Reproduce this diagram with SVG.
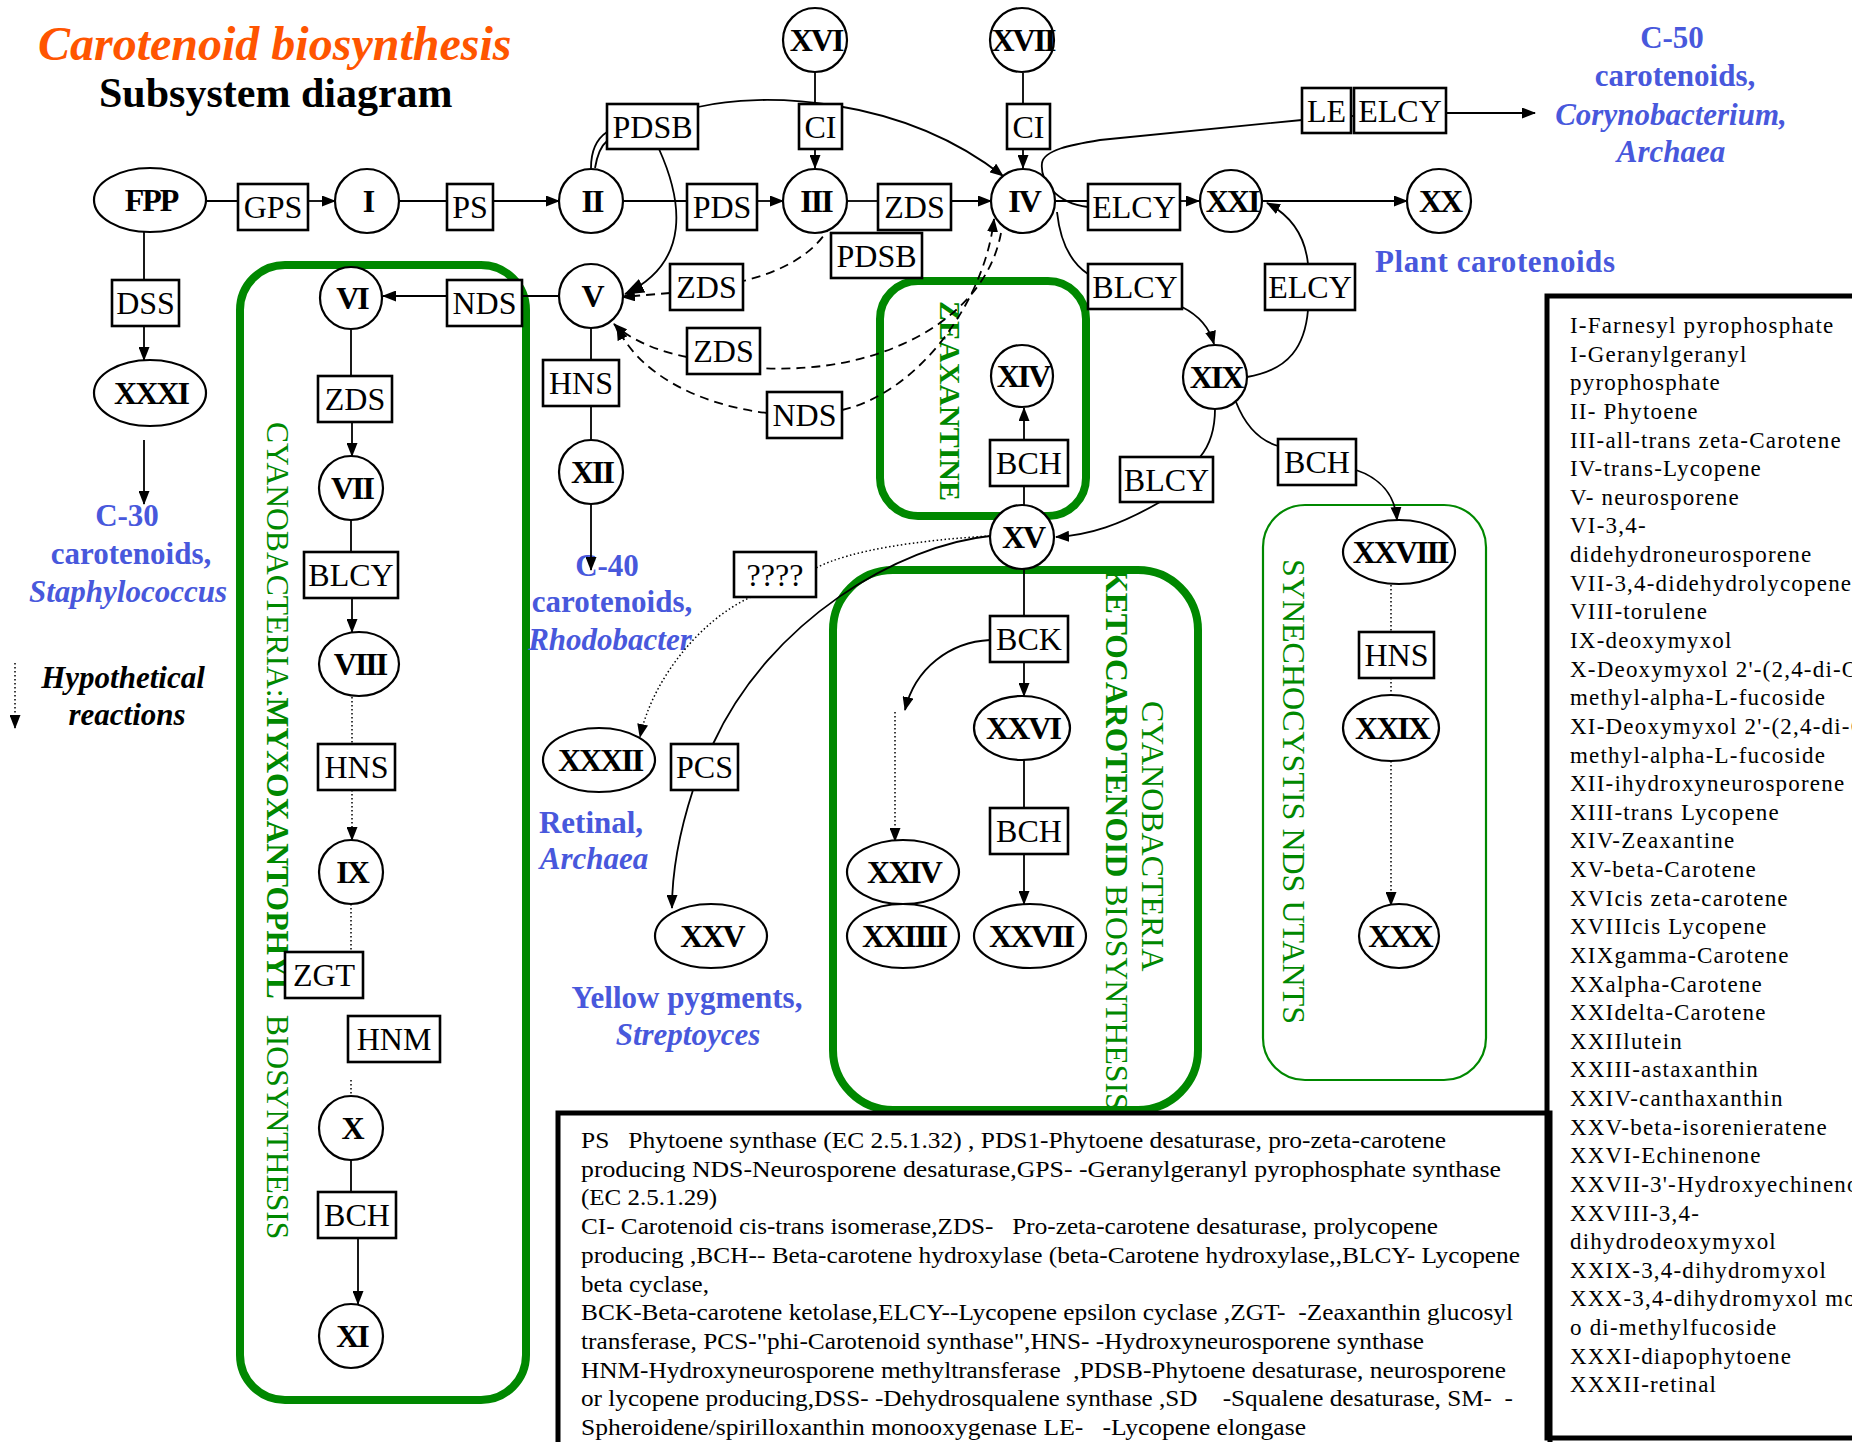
<svg xmlns="http://www.w3.org/2000/svg" width="1852" height="1442" viewBox="0 0 1852 1442">
<style>
text{font-family:"Liberation Serif","Times New Roman",serif}
.nd{fill:#fff;stroke:#000;stroke-width:2.2}
.bx{fill:#fff;stroke:#000;stroke-width:2.6}
.nl{font-weight:bold;font-size:32px;letter-spacing:-2px;text-anchor:middle}
.bl{font-size:32px;text-anchor:middle}
.c{fill:none;stroke:#000;stroke-width:1.8}
.da{stroke-dasharray:9 6}
.dt{stroke-dasharray:1.5 2.5;stroke-width:1.5}
.g{fill:none;stroke:#008800;stroke-width:8}
.gt{fill:#008800}
.blue{fill:#4858DC;font-weight:bold;font-size:31px;text-anchor:middle}
.lg{font-size:23px;letter-spacing:1.2px}
.lb{font-size:23px}
.frame{fill:none;stroke:#000;stroke-width:5}
</style>
<defs>
<marker id="a" markerWidth="14" markerHeight="11" refX="13" refY="5.5" orient="auto" markerUnits="userSpaceOnUse"><path d="M0,0 L14,5.5 L0,11 z"/></marker>
<marker id="ab" markerWidth="20" markerHeight="15" refX="19" refY="7.5" orient="auto" markerUnits="userSpaceOnUse"><path d="M0,0 L20,7.5 L0,15 z"/></marker>
</defs>
<rect width="1852" height="1442" fill="#fff"/>

<g id="titles">
<text x="38" y="60" font-size="48" font-weight="bold" font-style="italic" fill="#FF5500">Carotenoid biosynthesis</text>
<text x="99" y="107" font-size="42" font-weight="bold">Subsystem diagram</text>
</g>

<g id="groups">
<rect class="g" x="240" y="265" width="286" height="1135" rx="45"/>
<rect class="g" x="880" y="281" width="206" height="235" rx="38"/>
<rect class="g" x="833" y="570" width="365" height="540" rx="60"/>
<rect class="g" x="1263" y="505" width="223" height="575" rx="42" style="stroke-width:2.2"/>
<text class="gt" font-size="31.6" xml:space="preserve" transform="translate(267,422) rotate(90)">CYANOBACTERIA:<tspan font-weight="bold">MYXOXANTOPHYL</tspan>  BIOSYNTHESIS</text>
<text class="gt" font-size="30" font-weight="bold" transform="translate(940,301) rotate(90)">ZEAXANTINE</text>
<text class="gt" font-size="31.7" transform="translate(1106,568) rotate(90)"><tspan font-weight="bold">KETOCAROTENOID</tspan> BIOSYNTHESIS</text>
<text class="gt" font-size="32" transform="translate(1142,701) rotate(90)">CYANOBACTERIA</text>
<text class="gt" font-size="32" transform="translate(1283,559) rotate(90)">SYNECHOCYSTIS NDS UTANTS</text>
</g>

<g id="labels">
<text class="blue" x="127" y="526">C-30</text>
<text class="blue" x="131" y="564">carotenoids,</text>
<text class="blue" x="128" y="602" font-style="italic">Staphylococcus</text>
<text class="blue" x="607" y="576">C-40</text>
<text class="blue" x="612" y="612">carotenoids,</text>
<text class="blue" x="610" y="650" font-style="italic">Rhodobacter</text>
<text class="blue" x="591" y="833">Retinal,</text>
<text class="blue" x="594" y="869" font-style="italic">Archaea</text>
<text class="blue" x="687" y="1008">Yellow pygments,</text>
<text class="blue" x="688" y="1045" font-style="italic">Streptoyces</text>
<text class="blue" x="1672" y="48">C-50</text>
<text class="blue" x="1675" y="86">carotenoids,</text>
<text class="blue" x="1671" y="125" font-style="italic">Corynobacterium,</text>
<text class="blue" x="1671" y="162" font-style="italic">Archaea</text>
<text class="blue" x="1375" y="272" style="text-anchor:start" font-size="32" textLength="240" lengthAdjust="spacing">Plant carotenoids</text>
<text x="123" y="688" font-size="31" font-weight="bold" font-style="italic" text-anchor="middle">Hypothetical</text>
<text x="127" y="725" font-size="31" font-weight="bold" font-style="italic" text-anchor="middle">reactions</text>
</g>

<g id="connectors">
<path class="c" d="M190,201 H238"/>
<path class="c" d="M308,201 H335" marker-end="url(#a)"/>
<path class="c" d="M399,201 H447"/>
<path class="c" d="M493,201 H559" marker-end="url(#a)"/>
<path class="c" d="M623,201 H687"/>
<path class="c" d="M757,201 H783" marker-end="url(#a)"/>
<path class="c" d="M847,201 H878"/>
<path class="c" d="M951,201 H991" marker-end="url(#a)"/>
<path class="c" d="M144,232 V280"/>
<path class="c" d="M144,326 V360" marker-end="url(#a)"/>
<path class="c" d="M144,440 V504" marker-end="url(#a)"/>
<path class="c" d="M815,57 V104"/>
<path class="c" d="M815,149 V168" marker-end="url(#a)"/>
<path class="c" d="M1023,73 V104"/>
<path class="c" d="M1023,150 V168" marker-end="url(#a)"/>
<path class="c" d="M591,168 C591,150 598,138 607,132"/>
<path class="c" d="M595,168 C597,156 601,146 607,141"/>
<path class="c" d="M698,107 C760,92 900,95 1003,176" marker-end="url(#a)"/>
<path class="c" d="M659,149 C682,200 692,262 625,294" marker-end="url(#ab)"/>
<path class="c" d="M559,296 H522"/>
<path class="c" d="M447,296 H383" marker-end="url(#a)"/>
<path class="c" d="M591,328 V360"/>
<path class="c" d="M591,406 V440"/>
<path class="c" d="M591,504 V570" marker-end="url(#a)"/>
<path class="c" d="M351,330 V376"/>
<path class="c" d="M352,422 V456" marker-end="url(#a)"/>
<path class="c" d="M351,520 V552"/>
<path class="c" d="M352,598 V632" marker-end="url(#a)"/>
<path class="c dt" d="M352,697 V744"/>
<path class="c dt" d="M352,790 V840" marker-end="url(#a)"/>
<path class="c dt" d="M351,904 V952"/>
<path class="c dt" d="M351,1080 V1130" marker-end="url(#a)"/>
<path class="c" d="M351,1160 V1192"/>
<path class="c" d="M358,1238 V1304" marker-end="url(#a)"/>
<path class="c" d="M1055,201 H1088"/>
<path class="c" d="M1180,201 H1199" marker-end="url(#a)"/>
<path class="c" d="M1263,201 H1407" marker-end="url(#a)"/>
<path class="c" d="M1088,207 C1055,203 1040,180 1042,163 C1044,150 1070,145 1100,140 L1302,120"/>
<path class="c" d="M1351,116 H1354"/>
<path class="c" d="M1446,113 H1535" marker-end="url(#a)"/>
<path class="c" d="M1057,212 C1060,240 1070,262 1088,274"/>
<path class="c" d="M1182,307 C1198,315 1209,326 1214,344" marker-end="url(#a)"/>
<path class="c" d="M1247,377 C1290,370 1305,345 1308,310"/>
<path class="c" d="M1308,264 C1305,235 1290,215 1267,203" marker-end="url(#a)"/>
<path class="c" d="M1215,409 C1215,430 1210,445 1200,457"/>
<path class="c" d="M1160,502 C1120,525 1090,535 1056,537" marker-end="url(#a)"/>
<path class="c" d="M1236,402 C1245,425 1258,440 1278,446"/>
<path class="c" d="M1356,470 C1380,478 1395,495 1397,520" marker-end="url(#a)"/>
<path class="c" d="M1024,505 V486"/>
<path class="c" d="M1024,440 V408" marker-end="url(#a)"/>
<path class="c" d="M1024,569 V616"/>
<path class="c" d="M1024,662 V696" marker-end="url(#a)"/>
<path class="c" d="M990,640 C950,642 915,668 905,710" marker-end="url(#a)"/>
<path class="c dt" d="M895,712 V841" marker-end="url(#a)"/>
<path class="c" d="M1024,760 V808"/>
<path class="c" d="M1024,854 V904" marker-end="url(#a)"/>
<path class="c" d="M990,536 C900,545 770,620 713,744"/>
<path class="c" d="M693,790 C680,830 672,870 672,908" marker-end="url(#a)"/>
<path class="c dt" d="M990,536 C920,540 850,550 816,568"/>
<path class="c dt" d="M751,597 C700,620 652,680 640,737" marker-end="url(#a)"/>
<path class="c dt" d="M1391,585 V632"/>
<path class="c dt" d="M1391,678 V695"/>
<path class="c dt" d="M1391,761 V905" marker-end="url(#a)"/>
<path class="c da" d="M831,224 C815,255 780,272 743,281"/>
<path class="c da" d="M670,293 L622,297" marker-end="url(#a)"/>
<path class="c da" d="M687,357 C660,352 630,340 614,324" marker-end="url(#a)"/>
<path class="c da" d="M767,413 C700,405 640,375 617,327" marker-end="url(#a)"/>
<path class="c da" d="M1001,233 C985,320 880,375 760,368"/>
<path class="c da" d="M842,410 C920,392 985,300 994,219" marker-end="url(#a)"/>
<path class="c dt" d="M15,663 V728" marker-end="url(#a)"/>
</g>

<g id="FPP"><ellipse class="nd" cx="150" cy="200" rx="56" ry="32"/><text class="nl" x="151" y="211">FPP</text></g>
<g id="XXXI"><ellipse class="nd" cx="150" cy="393" rx="56" ry="33"/><text class="nl" x="151" y="404">XXXI</text></g>
<g id="I"><circle class="nd" cx="367" cy="201" r="32"/><text class="nl" x="368" y="212">I</text></g>
<g id="II"><circle class="nd" cx="591" cy="201" r="32"/><text class="nl" x="592" y="212">II</text></g>
<g id="III"><circle class="nd" cx="815" cy="201" r="32"/><text class="nl" x="816" y="212">III</text></g>
<g id="IV"><circle class="nd" cx="1023" cy="201" r="32"/><text class="nl" x="1024" y="212">IV</text></g>
<g id="V"><circle class="nd" cx="591" cy="296" r="32"/><text class="nl" x="592" y="307">V</text></g>
<g id="VI"><circle class="nd" cx="351" cy="298" r="31"/><text class="nl" x="352" y="309">VI</text></g>
<g id="VII"><circle class="nd" cx="351" cy="488" r="32"/><text class="nl" x="352" y="499">VII</text></g>
<g id="VIII"><ellipse class="nd" cx="359" cy="664" rx="40" ry="32"/><text class="nl" x="360" y="675">VIII</text></g>
<g id="IX"><circle class="nd" cx="351" cy="872" r="32"/><text class="nl" x="352" y="883">IX</text></g>
<g id="X"><circle class="nd" cx="351" cy="1128" r="32"/><text class="nl" x="352" y="1139">X</text></g>
<g id="XI"><circle class="nd" cx="351" cy="1336" r="32"/><text class="nl" x="352" y="1347">XI</text></g>
<g id="XII"><circle class="nd" cx="591" cy="472" r="32"/><text class="nl" x="592" y="483">XII</text></g>
<g id="XVI"><circle class="nd" cx="815" cy="40" r="32"/><text class="nl" x="816" y="51">XVI</text></g>
<g id="XVII"><circle class="nd" cx="1022" cy="40" r="32"/><text class="nl" x="1023" y="51">XVII</text></g>
<g id="XIV"><circle class="nd" cx="1022" cy="376" r="31"/><text class="nl" x="1023" y="387">XIV</text></g>
<g id="XV"><circle class="nd" cx="1022" cy="537" r="32"/><text class="nl" x="1023" y="548">XV</text></g>
<g id="XIX"><circle class="nd" cx="1215" cy="377" r="32"/><text class="nl" x="1216" y="388">XIX</text></g>
<g id="XXI"><circle class="nd" cx="1231" cy="201" r="31"/><text class="nl" x="1232" y="212">XXI</text></g>
<g id="XX"><circle class="nd" cx="1439" cy="201" r="32"/><text class="nl" x="1440" y="212">XX</text></g>
<g id="XXXII"><ellipse class="nd" cx="599" cy="760" rx="56" ry="32"/><text class="nl" x="600" y="771">XXXII</text></g>
<g id="XXV"><ellipse class="nd" cx="711" cy="936" rx="56" ry="32"/><text class="nl" x="712" y="947">XXV</text></g>
<g id="XXVI"><ellipse class="nd" cx="1022" cy="728" rx="48" ry="32"/><text class="nl" x="1023" y="739">XXVI</text></g>
<g id="XXIV"><ellipse class="nd" cx="903" cy="872" rx="56" ry="32"/><text class="nl" x="904" y="883">XXIV</text></g>
<g id="XXIIII"><ellipse class="nd" cx="903" cy="936" rx="56" ry="32"/><text class="nl" x="904" y="947">XXIIII</text></g>
<g id="XXVII"><ellipse class="nd" cx="1030" cy="936" rx="56" ry="32"/><text class="nl" x="1031" y="947">XXVII</text></g>
<g id="XXVIII"><ellipse class="nd" cx="1399" cy="552" rx="56" ry="32"/><text class="nl" x="1400" y="563">XXVIII</text></g>
<g id="XXIX"><ellipse class="nd" cx="1391" cy="728" rx="48" ry="33"/><text class="nl" x="1392" y="739">XXIX</text></g>
<g id="XXX"><ellipse class="nd" cx="1399" cy="936" rx="40" ry="32"/><text class="nl" x="1400" y="947">XXX</text></g>

<g id="GPS"><rect class="bx" x="238" y="184" width="70" height="46"/><text class="bl" x="273" y="218">GPS</text></g>
<g id="PS"><rect class="bx" x="447" y="184" width="46" height="46"/><text class="bl" x="470" y="218">PS</text></g>
<g id="DSS"><rect class="bx" x="112" y="280" width="67" height="46"/><text class="bl" x="145.5" y="314">DSS</text></g>
<g id="PDSB1"><rect class="bx" x="607" y="104" width="91" height="45"/><text class="bl" x="652.5" y="138">PDSB</text></g>
<g id="CI1"><rect class="bx" x="799" y="104" width="43" height="45"/><text class="bl" x="820.5" y="138">CI</text></g>
<g id="CI2"><rect class="bx" x="1007" y="104" width="43" height="45"/><text class="bl" x="1028.5" y="138">CI</text></g>
<g id="PDS"><rect class="bx" x="687" y="184" width="70" height="46"/><text class="bl" x="722" y="218">PDS</text></g>
<g id="ZDS1"><rect class="bx" x="878" y="184" width="73" height="46"/><text class="bl" x="914.5" y="218">ZDS</text></g>
<g id="PDSB2"><rect class="bx" x="831" y="233" width="91" height="45"/><text class="bl" x="876.5" y="267">PDSB</text></g>
<g id="NDS1"><rect class="bx" x="447" y="280" width="75" height="46"/><text class="bl" x="484.5" y="314">NDS</text></g>
<g id="ZDS2"><rect class="bx" x="670" y="264" width="73" height="46"/><text class="bl" x="706.5" y="298">ZDS</text></g>
<g id="ZDS3"><rect class="bx" x="687" y="328" width="73" height="46"/><text class="bl" x="723.5" y="362">ZDS</text></g>
<g id="NDS2"><rect class="bx" x="767" y="392" width="75" height="46"/><text class="bl" x="804.5" y="426">NDS</text></g>
<g id="HNS1"><rect class="bx" x="543" y="360" width="76" height="46"/><text class="bl" x="581" y="394">HNS</text></g>
<g id="ELCY1"><rect class="bx" x="1088" y="184" width="92" height="46"/><text class="bl" x="1134" y="218">ELCY</text></g>
<g id="BLCY1"><rect class="bx" x="1088" y="264" width="94" height="45"/><text class="bl" x="1135" y="298">BLCY</text></g>
<g id="ELCY2"><rect class="bx" x="1265" y="264" width="90" height="46"/><text class="bl" x="1310" y="298">ELCY</text></g>
<g id="LE"><rect class="bx" x="1302" y="88" width="49" height="45"/><text class="bl" x="1326.5" y="122">LE</text></g>
<g id="ELCY3"><rect class="bx" x="1354" y="88" width="92" height="45"/><text class="bl" x="1400" y="122">ELCY</text></g>
<g id="ZDS4"><rect class="bx" x="318" y="376" width="74" height="46"/><text class="bl" x="355" y="410">ZDS</text></g>
<g id="BLCY2"><rect class="bx" x="304" y="552" width="94" height="46"/><text class="bl" x="351" y="586">BLCY</text></g>
<g id="HNS2"><rect class="bx" x="318" y="744" width="77" height="46"/><text class="bl" x="356.5" y="778">HNS</text></g>
<g id="ZGT"><rect class="bx" x="285" y="952" width="78" height="46"/><text class="bl" x="324" y="986">ZGT</text></g>
<g id="HNM"><rect class="bx" x="348" y="1016" width="92" height="46"/><text class="bl" x="394" y="1050">HNM</text></g>
<g id="BCH1"><rect class="bx" x="318" y="1192" width="78" height="46"/><text class="bl" x="357" y="1226">BCH</text></g>
<g id="BCH2"><rect class="bx" x="990" y="440" width="78" height="46"/><text class="bl" x="1029" y="474">BCH</text></g>
<g id="BLCY3"><rect class="bx" x="1120" y="457" width="93" height="45"/><text class="bl" x="1166.5" y="491">BLCY</text></g>
<g id="Q"><rect class="bx" x="734" y="552" width="82" height="45"/><text class="bl" x="775" y="586">????</text></g>
<g id="PCS"><rect class="bx" x="671" y="744" width="67" height="46"/><text class="bl" x="704.5" y="778">PCS</text></g>
<g id="BCK"><rect class="bx" x="990" y="616" width="78" height="46"/><text class="bl" x="1029" y="650">BCK</text></g>
<g id="BCH3"><rect class="bx" x="990" y="808" width="78" height="46"/><text class="bl" x="1029" y="842">BCH</text></g>
<g id="BCH4"><rect class="bx" x="1278" y="439" width="78" height="46"/><text class="bl" x="1317" y="473">BCH</text></g>
<g id="HNS3"><rect class="bx" x="1359" y="632" width="75" height="46"/><text class="bl" x="1396.5" y="666">HNS</text></g>

<g id="legend-right">
<path class="frame" d="M1852,296 H1547 V1438 H1852"/>
<text class="lg" x="1570" y="333">I-Farnesyl pyrophosphate</text>
<text class="lg" x="1570" y="361.6">I-Geranylgeranyl</text>
<text class="lg" x="1570" y="390.3">pyrophosphate</text>
<text class="lg" x="1570" y="418.9">II- Phytoene</text>
<text class="lg" x="1570" y="447.5">III-all-trans zeta-Carotene</text>
<text class="lg" x="1570" y="476.2">IV-trans-Lycopene</text>
<text class="lg" x="1570" y="504.8">V- neurosporene</text>
<text class="lg" x="1570" y="533.4">VI-3,4-</text>
<text class="lg" x="1570" y="562">didehydroneurosporene</text>
<text class="lg" x="1570" y="590.7">VII-3,4-didehydrolycopene</text>
<text class="lg" x="1570" y="619.3">VIII-torulene</text>
<text class="lg" x="1570" y="647.9">IX-deoxymyxol</text>
<text class="lg" x="1570" y="676.6">X-Deoxymyxol 2'-(2,4-di-O-</text>
<text class="lg" x="1570" y="705.2">methyl-alpha-L-fucoside</text>
<text class="lg" x="1570" y="733.8">XI-Deoxymyxol 2'-(2,4-di-O-</text>
<text class="lg" x="1570" y="762.5">methyl-alpha-L-fucoside</text>
<text class="lg" x="1570" y="791.1">XII-ihydroxyneurosporene</text>
<text class="lg" x="1570" y="819.7">XIII-trans Lycopene</text>
<text class="lg" x="1570" y="848.3">XIV-Zeaxantine</text>
<text class="lg" x="1570" y="877">XV-beta-Carotene</text>
<text class="lg" x="1570" y="905.6">XVIcis zeta-carotene</text>
<text class="lg" x="1570" y="934.2">XVIIIcis Lycopene</text>
<text class="lg" x="1570" y="962.9">XIXgamma-Carotene</text>
<text class="lg" x="1570" y="991.5">XXalpha-Carotene</text>
<text class="lg" x="1570" y="1020.1">XXIdelta-Carotene</text>
<text class="lg" x="1570" y="1048.8">XXIIlutein</text>
<text class="lg" x="1570" y="1077.4">XXIII-astaxanthin</text>
<text class="lg" x="1570" y="1106">XXIV-canthaxanthin</text>
<text class="lg" x="1570" y="1134.6">XXV-beta-isorenieratene</text>
<text class="lg" x="1570" y="1163.3">XXVI-Echinenone</text>
<text class="lg" x="1570" y="1191.9">XXVII-3'-Hydroxyechinenone</text>
<text class="lg" x="1570" y="1220.5">XXVIII-3,4-</text>
<text class="lg" x="1570" y="1249.2">dihydrodeoxymyxol</text>
<text class="lg" x="1570" y="1277.8">XXIX-3,4-dihydromyxol</text>
<text class="lg" x="1570" y="1306.4">XXX-3,4-dihydromyxol mon</text>
<text class="lg" x="1570" y="1335">o di-methylfucoside</text>
<text class="lg" x="1570" y="1363.7">XXXI-diapophytoene</text>
<text class="lg" x="1570" y="1392.3">XXXII-retinal</text>
</g>

<g id="legend-bottom">
<path class="frame" d="M558,1450 V1113 H1550 V1450"/>
<text class="lb" x="581" y="1148" xml:space="preserve" textLength="865" lengthAdjust="spacingAndGlyphs">PS   Phytoene synthase (EC 2.5.1.32) , PDS1-Phytoene desaturase, pro-zeta-carotene</text>
<text class="lb" x="581" y="1176.7" xml:space="preserve" textLength="920" lengthAdjust="spacingAndGlyphs">producing NDS-Neurosporene desaturase,GPS- -Geranylgeranyl pyrophosphate synthase</text>
<text class="lb" x="581" y="1205.4" xml:space="preserve" textLength="136" lengthAdjust="spacingAndGlyphs">(EC 2.5.1.29)</text>
<text class="lb" x="581" y="1234.1" xml:space="preserve" textLength="857" lengthAdjust="spacingAndGlyphs">CI- Carotenoid cis-trans isomerase,ZDS-   Pro-zeta-carotene desaturase, prolycopene</text>
<text class="lb" x="581" y="1262.8" xml:space="preserve" textLength="939" lengthAdjust="spacingAndGlyphs">producing ,BCH-- Beta-carotene hydroxylase (beta-Carotene hydroxylase,,BLCY- Lycopene</text>
<text class="lb" x="581" y="1291.5" xml:space="preserve" textLength="128" lengthAdjust="spacingAndGlyphs">beta cyclase,</text>
<text class="lb" x="581" y="1320.2" xml:space="preserve" textLength="932" lengthAdjust="spacingAndGlyphs">BCK-Beta-carotene ketolase,ELCY--Lycopene epsilon cyclase ,ZGT-  -Zeaxanthin glucosyl</text>
<text class="lb" x="581" y="1348.9" xml:space="preserve" textLength="843" lengthAdjust="spacingAndGlyphs">transferase, PCS-&quot;phi-Carotenoid synthase&quot;,HNS- -Hydroxyneurosporene synthase</text>
<text class="lb" x="581" y="1377.6" xml:space="preserve" textLength="925" lengthAdjust="spacingAndGlyphs">HNM-Hydroxyneurosporene methyltransferase  ,PDSB-Phytoene desaturase, neurosporene</text>
<text class="lb" x="581" y="1406.3" xml:space="preserve" textLength="932" lengthAdjust="spacingAndGlyphs">or lycopene producing,DSS- -Dehydrosqualene synthase ,SD    -Squalene desaturase, SM-  -</text>
<text class="lb" x="581" y="1435" xml:space="preserve" textLength="725" lengthAdjust="spacingAndGlyphs">Spheroidene/spirilloxanthin monooxygenase LE-   -Lycopene elongase</text>
</g>
</svg>
